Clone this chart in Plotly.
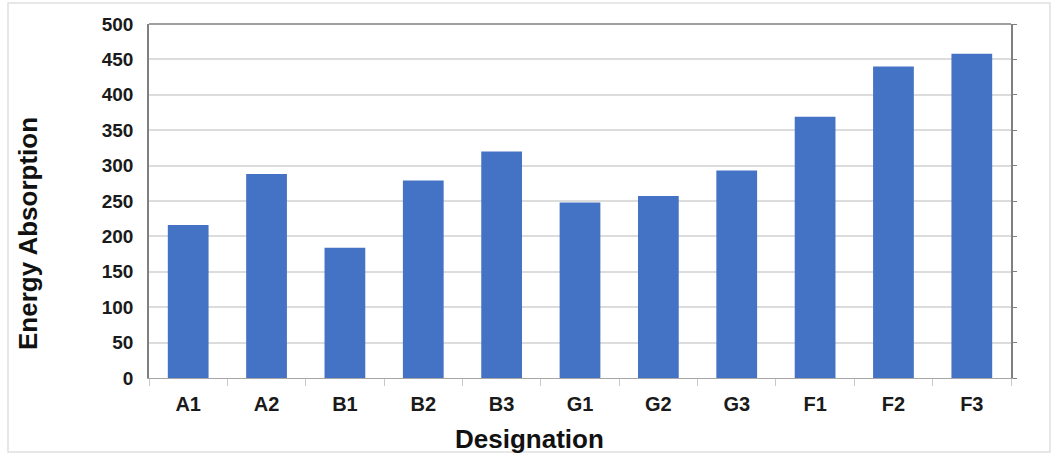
import plotly.graph_objects as go

designations = ["A1", "A2", "B1", "B2", "B3", "G1", "G2", "G3", "F1", "F2", "F3"]
energy_absorption = [216, 288, 184, 279, 320, 248, 257, 293, 369, 440, 458]
y_ticks = [0, 50, 100, 150, 200, 250, 300, 350, 400, 450, 500]

BAR_COLOR = "#4472C4"
FONT = "Liberation Sans, Arial, sans-serif"

# plot-area geometry in pixels (used to place titles and the outer border)
L, R, T, B = 149, 1011, 24, 378
PW, PH = R - L, B - T


def px_x(px):
    return (px - L) / PW


def px_y(py):
    return (B - py) / PH


fig = go.Figure()
fig.add_trace(go.Bar(
    x=designations,
    y=energy_absorption,
    marker=dict(color=BAR_COLOR, line=dict(width=0)),
    width=0.52,
    showlegend=False,
))
# invisible trace that carries the right-hand frame with its outward ticks
fig.add_trace(go.Scatter(x=[designations[0]], y=[0], yaxis="y2",
                         mode="markers", marker=dict(opacity=0),
                         showlegend=False, hoverinfo="skip"))

fig.update_layout(
    width=1052, height=454,
    margin=dict(l=L, r=1052 - R, t=T, b=454 - B),
    paper_bgcolor="white", plot_bgcolor="white",
    font=dict(family=FONT, size=20, color="#1a1a1a"),
    bargap=0.48,
    xaxis=dict(
        tickfont=dict(size=20),
        tickprefix="<b>", ticksuffix="</b>",
        showline=True, linecolor="#a6a6a6", linewidth=1,
        ticks="outside", tickson="boundaries", ticklen=7, tickcolor="#c8c8c8",
        ticklabelstandoff=8,
        showgrid=False,
        range=[-0.5, len(designations) - 0.5],
    ),
    yaxis=dict(
        range=[0, 500], tickvals=y_ticks,
        ticktext=[f"<b>{v}</b>" for v in y_ticks],
        tickfont=dict(size=19),
        ticklabelstandoff=10,
        showline=True, linecolor="#808080", linewidth=1.5,
        gridcolor="#dcdcdc", gridwidth=1.5,
        ticks="", zeroline=False,
    ),
    yaxis2=dict(
        overlaying="y", side="right", range=[0, 500], tickvals=y_ticks,
        showticklabels=False, ticks="outside", ticklen=4, tickcolor="#808080",
        showline=True, linecolor="#808080", linewidth=1.5, showgrid=False,
        zeroline=False,
    ),
    annotations=[
        dict(text="<b>Energy Absorption</b>", xref="paper", yref="paper",
             x=px_x(28), y=px_y(234), xanchor="center", yanchor="middle",
             textangle=-90, showarrow=False, font=dict(size=26, color="#111")),
        dict(text="<b>Designation</b>", xref="paper", yref="paper",
             x=px_x(529), y=px_y(439), xanchor="center", yanchor="middle",
             showarrow=False, font=dict(size=26, color="#111")),
    ],
    shapes=[
        # top edge of the plot frame
        dict(type="line", xref="paper", yref="paper", x0=0, x1=1, y0=1, y1=1,
             line=dict(color="#808080", width=1.5)),
        # light outer border around the whole chart
        dict(type="rect", xref="paper", yref="paper",
             x0=px_x(8), x1=px_x(1050), y0=px_y(452), y1=px_y(3),
             line=dict(color="#e0e0e0", width=1.5), layer="below"),
    ],
)

fig.write_html("out.html")
